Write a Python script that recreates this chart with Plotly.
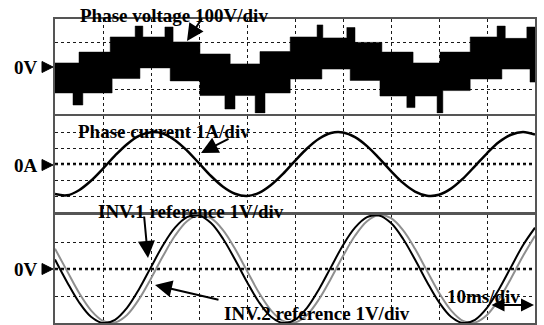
import plotly.graph_objects as go

W, H = 544, 325

# ---------------- data ----------------
# Phase voltage (100 V/div): PWM multilevel envelope, step edges in ms and levels in V
upper_edges_ms = [0, 5.0, 11.5, 16.7, 18.3, 22.9, 24.6, 30.2, 36.5, 42.7, 49.0, 54.6, 55.8,
                  60.8, 62.5, 68.1, 74.6, 80.2, 86.5, 92.1, 93.8, 98.3, 100]
upper_levels_V = [14, 60, 124, 170, 124, 166, 103, 52, 10, 62, 124, 175, 120, 164, 101,
                  60, 14, 60, 124, 170, 118, 166]
lower_edges_ms = [0, 3.75, 5.8, 11.9, 17.7, 24.0, 30.2, 35.4, 37.5, 41.7, 43.75, 49.0, 55.6,
                  61.5, 67.7, 73.3, 75.0, 79.6, 80.8, 86.5, 93.1, 98.96, 100]
lower_levels_V = [-113, -164, -113, -52, -7, -62, -124, -181, -124, -198, -113, -54, -12,
                  -60, -126, -175, -126, -198, -103, -54, -12, -67]

# sample times (ms)
t_ms = [0, 2.5, 5, 7.5, 10, 12.5, 15, 17.5, 20, 22.5, 25, 27.5, 30, 32.5, 35, 37.5, 40,
        42.5, 45, 47.5, 50, 52.5, 55, 57.5, 60, 62.5, 65, 67.5, 70, 72.5, 75, 77.5, 80,
        82.5, 85, 87.5, 90, 92.5, 95, 97.5, 100]

# Phase current (A)
current_A = [-1.88, -1.96, -1.64, -1.05, -0.29, 0.52, 1.24, 1.76, 1.99, 1.90, 1.49, 0.84,
             0.05, -0.75, -1.42, -1.86, -2.00, -1.80, -1.31, -0.61, 0.20, 0.97, 1.58, 1.94,
             1.97, 1.68, 1.12, 0.37, -0.44, -1.18, -1.72, -1.98, -1.92, -1.54, -0.91, -0.13,
             0.67, 1.37, 1.83, 2.00, 1.84]

# INV.1 / INV.2 references (V)
inv1_ref_V = [0.35, -0.48, -1.23, -1.77, -2.00, -1.88, -1.44, -0.75, 0.07, 0.88, 1.53, 1.92, 1.98, 1.70, 1.12,
              0.35, -0.48, -1.23, -1.77, -2.00, -1.88, -1.44, -0.75, 0.07, 0.88, 1.53, 1.92, 1.98, 1.70, 1.12,
              0.35, -0.48, -1.23, -1.77, -2.00, -1.88, -1.44, -0.75, 0.07, 0.88, 1.53]
inv2_ref_V = [0.75, -0.07, -0.88, -1.53, -1.92, -1.98, -1.70, -1.12, -0.35, 0.48, 1.23, 1.77, 2.00, 1.88, 1.44,
              0.75, -0.07, -0.88, -1.53, -1.92, -1.98, -1.70, -1.12, -0.35, 0.48, 1.23, 1.77, 2.00, 1.88, 1.44,
              0.75, -0.07, -0.88, -1.53, -1.92, -1.98, -1.70, -1.12, -0.35, 0.48, 1.23]

# ---------------- build voltage polygon ----------------
vx, vy = [], []
for i, v in enumerate(upper_levels_V):
    vx += [upper_edges_ms[i], upper_edges_ms[i + 1]]
    vy += [v, v]
for i in reversed(range(len(lower_levels_V))):
    vx += [lower_edges_ms[i + 1], lower_edges_ms[i]]
    vy += [lower_levels_V[i], lower_levels_V[i]]
vx.append(vx[0]); vy.append(vy[0])

fig = go.Figure()
fig.add_trace(go.Scatter(x=vx, y=vy, mode="lines", fill="toself", fillcolor="black",
                         line=dict(color="black", width=0.5), xaxis="x", yaxis="y",
                         showlegend=False, hoverinfo="skip"))
fig.add_trace(go.Scatter(x=t_ms, y=current_A, mode="lines", line=dict(color="black", width=2.5, shape="spline"),
                         xaxis="x2", yaxis="y2", showlegend=False))
fig.add_trace(go.Scatter(x=t_ms, y=inv2_ref_V, mode="lines", line=dict(color="#8f8f8f", width=2, shape="spline"),
                         xaxis="x3", yaxis="y3", showlegend=False))
fig.add_trace(go.Scatter(x=t_ms, y=inv1_ref_V, mode="lines", line=dict(color="black", width=2, shape="spline"),
                         xaxis="x3", yaxis="y3", showlegend=False))

def px(x):
    return x / W

def py(y):
    return 1 - y / H

xdom = [px(55), px(535)]
panels = [  # (top px, bottom px, range, dtick)
    (19, 113.5, [-200, 200], 100),
    (116, 212, [-3, 3], 1),
    (215, 323, [-2, 2], 1),
]

grid = dict(showgrid=True, gridcolor="#1a1a1a", gridwidth=1, griddash="3px,3px",
            showline=True, linecolor="#555555", linewidth=2, mirror=True,
            showticklabels=False, ticks="", zeroline=False)

layout = dict(width=W, height=H, margin=dict(l=0, r=0, t=0, b=0),
              paper_bgcolor="white", plot_bgcolor="white", showlegend=False)
for k, (top, bot, rng, dt) in enumerate(panels, start=1):
    sx = "" if k == 1 else str(k)
    layout["xaxis" + sx] = dict(domain=xdom, range=[0, 100], dtick=10, anchor="y" + sx, **grid)
    layout["yaxis" + sx] = dict(domain=[py(bot), py(top)], range=rng, dtick=dt, anchor="x" + sx, **grid)
fig.update_layout(**layout)

# thick dotted zero lines
shapes = []
for k in (1, 2, 3):
    sx = "" if k == 1 else str(k)
    shapes.append(dict(type="line", xref="x" + sx, yref="y" + sx, x0=0, x1=100, y0=0, y1=0,
                       line=dict(color="black", width=2.5, dash="dot"), layer="below"))
# zero markers (triangles)
for yc in (67, 165, 269):
    shapes.append(dict(type="path", xref="paper", yref="paper",
                       path=f"M {px(42)} {py(yc-5.5)} L {px(53)} {py(yc)} L {px(42)} {py(yc+5.5)} Z",
                       fillcolor="black", line=dict(color="black", width=1)))
fig.update_layout(shapes=shapes)

FONT = dict(family="Liberation Serif, Times New Roman, serif", size=19, color="black")
ann = []
for lab, yc in (("0V", 67), ("0A", 165), ("0V", 269)):
    ann.append(dict(text=f"<b>{lab}</b>", x=px(40), y=py(yc), xref="paper", yref="paper",
                    xanchor="right", yanchor="middle", showarrow=False, font=FONT))
texts = [("Phase voltage 100V/div", 174, 16),
         ("Phase current 1A/div", 164, 131),
         ("INV.1 reference 1V/div", 191, 211),
         ("INV.2 reference 1V/div", 317, 313),
         ("10ms/div", 483, 296)]
for s, xc, yc in texts:
    ann.append(dict(text=f"<b>{s}</b>", x=px(xc), y=py(yc), xref="paper", yref="paper",
                    xanchor="center", yanchor="middle", showarrow=False, font=FONT))
arrows = [(187, 41, 16, -24), (201, 153, 29, -15), (148, 258, -4, -43), (155, 285, 65, 15)]
for xt, yt, ax, ay in arrows:
    ann.append(dict(text="", x=px(xt), y=py(yt), xref="paper", yref="paper", ax=ax, ay=ay,
                    showarrow=True, arrowhead=2, arrowsize=1.7, arrowwidth=2, arrowcolor="black"))
ann.append(dict(text="", x=px(534), y=py(305), xref="paper", yref="paper", ax=-44, ay=0,
                showarrow=True, arrowhead=2, startarrowhead=2, arrowside="end+start",
                arrowsize=1.3, startarrowsize=1.3, arrowwidth=2, arrowcolor="black"))
fig.update_layout(annotations=ann)

fig.write_html("out.html")
